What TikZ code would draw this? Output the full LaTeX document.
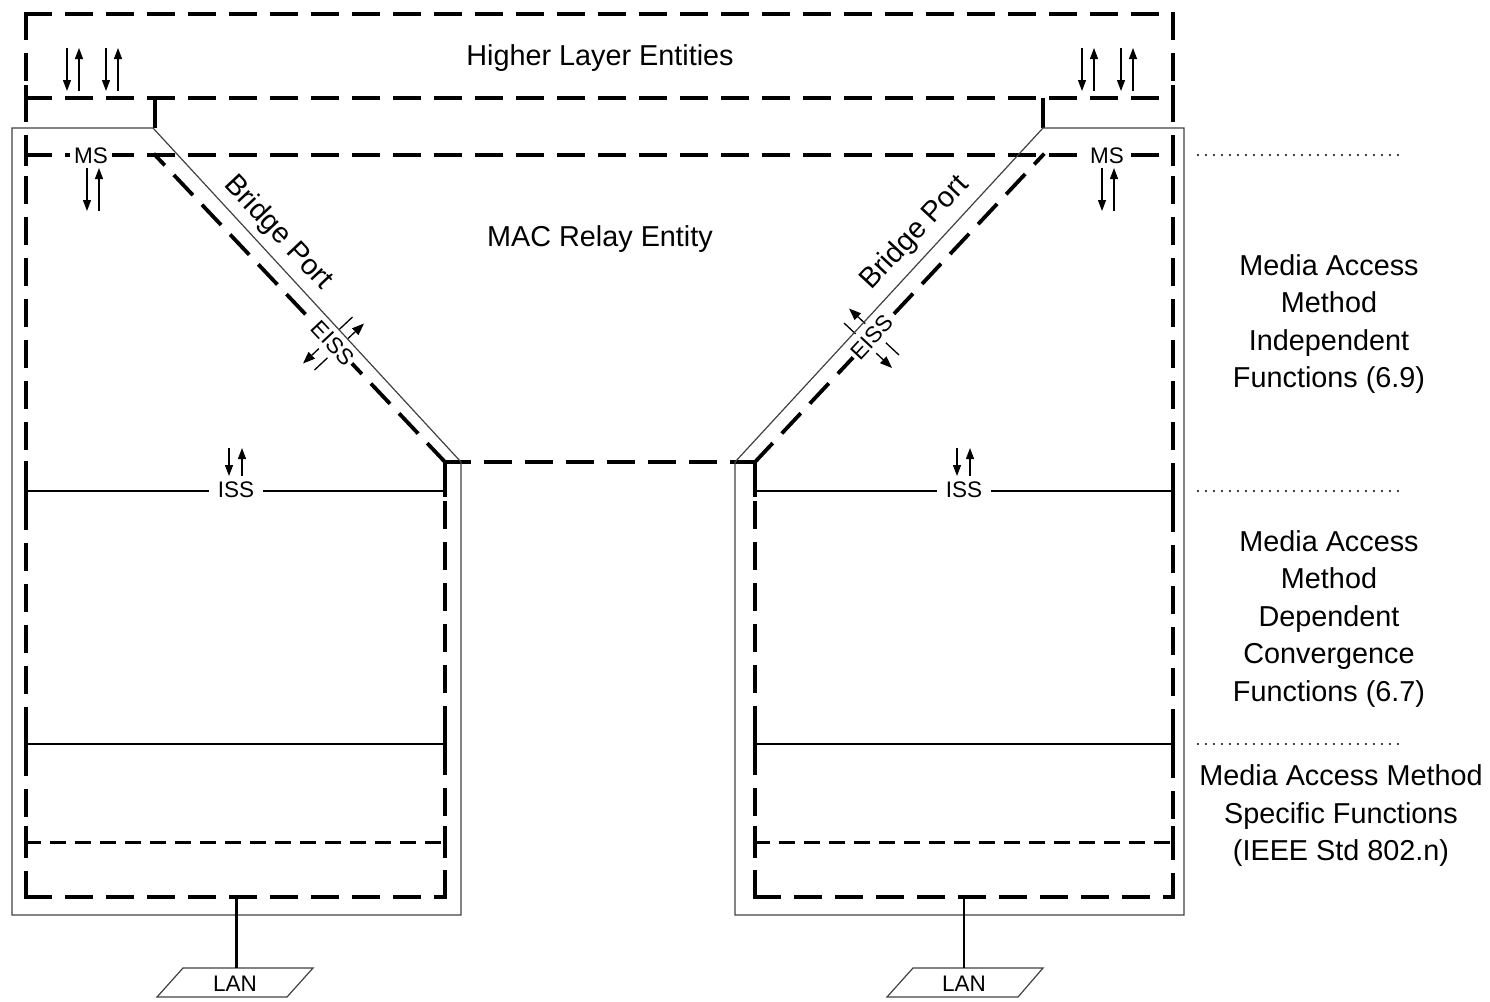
\documentclass[tikz,border=0pt]{standalone}
\usepackage{fontspec}
\setmainfont{Liberation Sans}
\usetikzlibrary{arrows.meta}
\begin{document}
\begin{tikzpicture}[x=1pt,y=-1pt,
  thickdash/.style={line width=3.8pt, line cap=rect, dash pattern=on 24pt off 17pt},
  midash/.style={line width=3pt, line cap=rect, dash pattern=on 13pt off 12pt},
  tickln/.style={line width=3.8pt},
  solidln/.style={line width=1.4pt},
  outln/.style={line width=1.2pt, draw=black!75},
  arr/.style={line width=1.3pt, -{Triangle[length=11pt,width=8pt]}},
  earr/.style={line width=1.3pt, -{Triangle[length=12pt,width=9pt]}},
  big/.style={font=\fontsize{28.8}{37.5}\selectfont, align=center},
  small/.style={font=\fontsize{22.5}{26}\selectfont},
  lbl/.style={small, fill=white, inner ysep=3pt, inner xsep=4pt},
  eiss/.style={small, fill=white, inner ysep=6pt, inner xsep=2pt},
  dotln/.style={line width=2.4pt, line cap=round, dash pattern=on 0pt off 8pt},
]
\useasboundingbox (0,0) rectangle (1490,1001);
% key points
\coordinate (oTL) at (26,14);
\coordinate (oTR) at (1173,14);
\coordinate (hL) at (26,98);
\coordinate (hR) at (1173,98);
\coordinate (hA) at (155,98);
\coordinate (hB) at (1043,98);
\coordinate (pA) at (155,128);
\coordinate (pB) at (1043,128);
\coordinate (mL) at (26,155);
\coordinate (mR) at (1173,155);
\coordinate (dA) at (155,155);
\coordinate (dB) at (1043,155);
\coordinate (cA) at (445,462);
\coordinate (cB) at (755,462);
\coordinate (midL) at (26,450);
\coordinate (bLL) at (26,897);
\coordinate (bLR) at (445,897);
\coordinate (bRL) at (755,897);
\coordinate (bRR) at (1173,897);
\coordinate (lanLc) at (236,897);
\coordinate (lanRc) at (964,897);
\coordinate (lanLt) at (236,968);
\coordinate (lanRt) at (964,968);

% thick dashed structure
\draw[thickdash] (oTL) -- (oTR);
\draw[thickdash] (oTL) -- (midL);
\draw[thickdash] (bLL) -- (midL);
\draw[thickdash] (oTR) -- (bRR);
\draw[thickdash] (hL) -- (hR);
\draw[tickln] (hA) -- (pA);
\draw[tickln] (hB) -- (pB);
\draw[thickdash] (mL) -- (mR);
\draw[thickdash] (cA) -- (dA);
\draw[thickdash] (cB) -- (dB);
\draw[thickdash] (cA) -- (cB);
\draw[thickdash] (cA) -- (bLR);
\draw[thickdash] (cB) -- (bRL);
\draw[thickdash] (bLL) -- (bLR);
\draw[thickdash] (bRL) -- (bRR);

% inner horizontal lines
\draw[solidln] (26,491) -- (445,491);
\draw[solidln] (755,491) -- (1173,491);
\draw[solidln] (26,744) -- (445,744);
\draw[solidln] (755,744) -- (1173,744);
\draw[midash] (26,842) -- (445,842);
\draw[midash] (755,842) -- (1173,842);

% junction ticks
\foreach \x/\y/\h in {26/98/13, 1173/98/13, 26/155/11, 1173/155/11,
                      26/491/13, 1173/491/13,
                      26/744/15, 445/744/15, 755/744/15, 1173/744/15,
                      26/842/16, 445/842/16, 755/842/16, 1173/842/16}
  \draw[tickln] (\x,\y-\h) -- (\x,\y+\h);
\draw[tickln] (445,462) -- (445,497);
\draw[tickln] (755,462) -- (755,497);

% EISS arrows (partly hidden by labels)
\draw[earr] (314.5,370) -- (364,323.5);
\draw[earr] (352.5,317) -- (303,363.5);
\draw[earr] (899,355) -- (849,308.5);
\draw[earr] (844,323) -- (892,368);

% labels on lines
\node[lbl] (msL) at (91,156) {MS};
\node[lbl] (msR) at (1107,156) {MS};
\node[lbl, inner xsep=9pt] (issL) at (236,490) {ISS};
\node[lbl, inner xsep=9pt] (issR) at (964,490) {ISS};
\node[eiss, rotate=-46.8] (eissL) at (333,343) {EISS};
\node[eiss, rotate=47] (eissR) at (872,337) {EISS};

% vertical arrow pairs
\foreach \x in {67,106,1082,1121} {
  \draw[arr] (\x,48) -- (\x,91);
  \draw[arr] (\x+12,91) -- (\x+12,48);
}
\foreach \x in {87,1102} {
  \draw[arr] (\x,168) -- (\x,211);
  \draw[arr] (\x+12,211) -- (\x+12,168);
}
\foreach \x in {229,957} {
  \draw[arr] (\x,448) -- (\x,476);
  \draw[arr] (\x+13,476) -- (\x+13,448);
}

% thin port outlines
\draw[outln] (12,128) -- (153,128) -- (461,462) -- (461,915) -- (12,915) -- cycle;
\draw[outln] (1043,128) -- (1184,128) -- (1184,915) -- (735,915) -- (735,462) -- cycle;

% LANs
\draw[outln] (157,997) -- (287,997) -- (313,968) -- (183,968) -- cycle;
\draw[outln] (887,997) -- (1018,997) -- (1043,968) -- (913,968) -- cycle;
\node[small, inner sep=0pt] (lanL) at (235,984) {LAN};
\node[small, inner sep=0pt] (lanR) at (964,984) {LAN};
\draw[line width=3pt] (lanLc) -- (lanLt);
\draw[solidln] (lanRc) -- (lanRt);

% texts
\node[big] (hle) at (600,58) {Higher Layer Entities};
\node[big] (mre) at (600,239) {MAC Relay Entity};
\node[big, rotate=-46.8] (bpL) at (278,233) {Bridge Port};
\node[big, rotate=47] (bpR) at (915,233) {Bridge Port};
\node[big] (mi) at (1329,324) {Media Access\\Method\\Independent\\Functions (6.9)};
\node[big] (md) at (1329,619) {Media Access\\Method\\Dependent\\Convergence\\Functions (6.7)};
\node[big] (ms) at (1341,816) {Media Access Method\\Specific Functions\\(IEEE Std 802.n)};

% dotted separators
\draw[dotln] (1198,155) -- (1400,155);
\draw[dotln] (1198,491) -- (1400,491);
\draw[dotln] (1198,744) -- (1400,744);
\end{tikzpicture}
\end{document}
